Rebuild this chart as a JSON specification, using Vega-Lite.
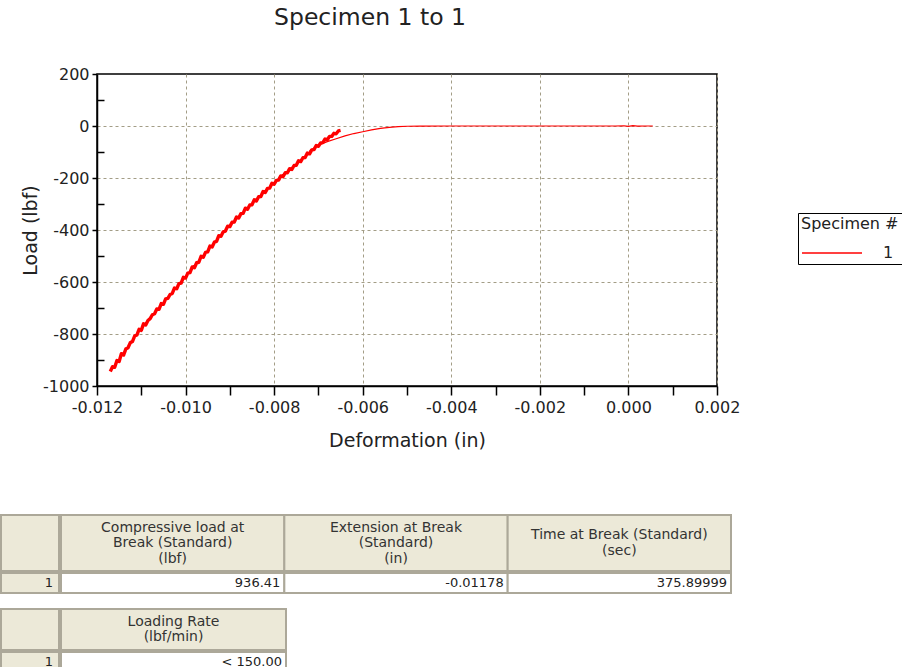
{
  "$schema": "https://vega.github.io/schema/vega-lite/v6.json",
  "padding": {"left": 0, "top": 4, "right": 0, "bottom": 0},
  "background": "white",
  "config": {"font": "DejaVu Sans", "view": {"stroke": null}},
  "datasets": {
    "curve": [
      {"deformation": 0.00055, "load": 0, "phase": "a", "specimen": "1"},
      {"deformation": 0.0004, "load": 0, "phase": "a", "specimen": "1"},
      {"deformation": 0.0002, "load": -0.5, "phase": "a", "specimen": "1"},
      {"deformation": 0.0001, "load": 1.5, "phase": "a", "specimen": "1"},
      {"deformation": 0.0, "load": -1.5, "phase": "a", "specimen": "1"},
      {"deformation": -0.0001, "load": 1, "phase": "a", "specimen": "1"},
      {"deformation": -0.0003, "load": 0, "phase": "a", "specimen": "1"},
      {"deformation": -0.001, "load": 0, "phase": "a", "specimen": "1"},
      {"deformation": -0.002, "load": 0, "phase": "a", "specimen": "1"},
      {"deformation": -0.003, "load": 0, "phase": "a", "specimen": "1"},
      {"deformation": -0.004, "load": 0, "phase": "a", "specimen": "1"},
      {"deformation": -0.0047, "load": -0.3, "phase": "a", "specimen": "1"},
      {"deformation": -0.005, "load": -1, "phase": "a", "specimen": "1"},
      {"deformation": -0.0052, "load": -2.5, "phase": "a", "specimen": "1"},
      {"deformation": -0.0054, "load": -5, "phase": "a", "specimen": "1"},
      {"deformation": -0.0056, "load": -9, "phase": "a", "specimen": "1"},
      {"deformation": -0.0058, "load": -15, "phase": "a", "specimen": "1"},
      {"deformation": -0.006, "load": -22, "phase": "a", "specimen": "1"},
      {"deformation": -0.0062, "load": -29, "phase": "a", "specimen": "1"},
      {"deformation": -0.0064, "load": -38, "phase": "a", "specimen": "1"},
      {"deformation": -0.0066, "load": -49, "phase": "a", "specimen": "1"},
      {"deformation": -0.0068, "load": -60, "phase": "a", "specimen": "1"},
      {"deformation": -0.007, "load": -74, "phase": "a", "specimen": "1"},
      {"deformation": -0.0072, "load": -95, "phase": "a", "specimen": "1"},
      {"deformation": -0.0117, "load": -944, "phase": "b", "specimen": "1"},
      {"deformation": -0.01165, "load": -926, "phase": "b", "specimen": "1"},
      {"deformation": -0.0116, "load": -928, "phase": "b", "specimen": "1"},
      {"deformation": -0.01155, "load": -902, "phase": "b", "specimen": "1"},
      {"deformation": -0.0115, "load": -906, "phase": "b", "specimen": "1"},
      {"deformation": -0.01145, "load": -876, "phase": "b", "specimen": "1"},
      {"deformation": -0.0114, "load": -881, "phase": "b", "specimen": "1"},
      {"deformation": -0.01135, "load": -858, "phase": "b", "specimen": "1"},
      {"deformation": -0.0113, "load": -853, "phase": "b", "specimen": "1"},
      {"deformation": -0.01125, "load": -834, "phase": "b", "specimen": "1"},
      {"deformation": -0.0112, "load": -829, "phase": "b", "specimen": "1"},
      {"deformation": -0.01115, "load": -808, "phase": "b", "specimen": "1"},
      {"deformation": -0.0111, "load": -804, "phase": "b", "specimen": "1"},
      {"deformation": -0.01105, "load": -782, "phase": "b", "specimen": "1"},
      {"deformation": -0.011, "load": -786, "phase": "b", "specimen": "1"},
      {"deformation": -0.01095, "load": -761, "phase": "b", "specimen": "1"},
      {"deformation": -0.0109, "load": -765, "phase": "b", "specimen": "1"},
      {"deformation": -0.01085, "load": -748, "phase": "b", "specimen": "1"},
      {"deformation": -0.0108, "load": -741, "phase": "b", "specimen": "1"},
      {"deformation": -0.01075, "load": -726, "phase": "b", "specimen": "1"},
      {"deformation": -0.0107, "load": -722, "phase": "b", "specimen": "1"},
      {"deformation": -0.01065, "load": -704, "phase": "b", "specimen": "1"},
      {"deformation": -0.0106, "load": -705, "phase": "b", "specimen": "1"},
      {"deformation": -0.01055, "load": -683, "phase": "b", "specimen": "1"},
      {"deformation": -0.0105, "load": -686, "phase": "b", "specimen": "1"},
      {"deformation": -0.01045, "load": -665, "phase": "b", "specimen": "1"},
      {"deformation": -0.0104, "load": -663, "phase": "b", "specimen": "1"},
      {"deformation": -0.01035, "load": -648, "phase": "b", "specimen": "1"},
      {"deformation": -0.0103, "load": -644, "phase": "b", "specimen": "1"},
      {"deformation": -0.01025, "load": -623, "phase": "b", "specimen": "1"},
      {"deformation": -0.0102, "load": -626, "phase": "b", "specimen": "1"},
      {"deformation": -0.01015, "load": -606, "phase": "b", "specimen": "1"},
      {"deformation": -0.0101, "load": -604, "phase": "b", "specimen": "1"},
      {"deformation": -0.01005, "load": -582, "phase": "b", "specimen": "1"},
      {"deformation": -0.01, "load": -585, "phase": "b", "specimen": "1"},
      {"deformation": -0.00995, "load": -566, "phase": "b", "specimen": "1"},
      {"deformation": -0.0099, "load": -564, "phase": "b", "specimen": "1"},
      {"deformation": -0.00985, "load": -542, "phase": "b", "specimen": "1"},
      {"deformation": -0.0098, "load": -545, "phase": "b", "specimen": "1"},
      {"deformation": -0.00975, "load": -526, "phase": "b", "specimen": "1"},
      {"deformation": -0.0097, "load": -524, "phase": "b", "specimen": "1"},
      {"deformation": -0.00965, "load": -501, "phase": "b", "specimen": "1"},
      {"deformation": -0.0096, "load": -505, "phase": "b", "specimen": "1"},
      {"deformation": -0.00955, "load": -486, "phase": "b", "specimen": "1"},
      {"deformation": -0.0095, "load": -484, "phase": "b", "specimen": "1"},
      {"deformation": -0.00945, "load": -462, "phase": "b", "specimen": "1"},
      {"deformation": -0.0094, "load": -465, "phase": "b", "specimen": "1"},
      {"deformation": -0.00935, "load": -447, "phase": "b", "specimen": "1"},
      {"deformation": -0.0093, "load": -444, "phase": "b", "specimen": "1"},
      {"deformation": -0.00925, "load": -422, "phase": "b", "specimen": "1"},
      {"deformation": -0.0092, "load": -424, "phase": "b", "specimen": "1"},
      {"deformation": -0.00915, "load": -407, "phase": "b", "specimen": "1"},
      {"deformation": -0.0091, "load": -404, "phase": "b", "specimen": "1"},
      {"deformation": -0.00905, "load": -385, "phase": "b", "specimen": "1"},
      {"deformation": -0.009, "load": -387, "phase": "b", "specimen": "1"},
      {"deformation": -0.00895, "load": -370, "phase": "b", "specimen": "1"},
      {"deformation": -0.0089, "load": -369, "phase": "b", "specimen": "1"},
      {"deformation": -0.00885, "load": -350, "phase": "b", "specimen": "1"},
      {"deformation": -0.0088, "load": -354, "phase": "b", "specimen": "1"},
      {"deformation": -0.00875, "load": -337, "phase": "b", "specimen": "1"},
      {"deformation": -0.0087, "load": -336, "phase": "b", "specimen": "1"},
      {"deformation": -0.00865, "load": -316, "phase": "b", "specimen": "1"},
      {"deformation": -0.0086, "load": -320, "phase": "b", "specimen": "1"},
      {"deformation": -0.00855, "load": -304, "phase": "b", "specimen": "1"},
      {"deformation": -0.0085, "load": -303, "phase": "b", "specimen": "1"},
      {"deformation": -0.00845, "load": -284, "phase": "b", "specimen": "1"},
      {"deformation": -0.0084, "load": -288, "phase": "b", "specimen": "1"},
      {"deformation": -0.00835, "load": -272, "phase": "b", "specimen": "1"},
      {"deformation": -0.0083, "load": -271, "phase": "b", "specimen": "1"},
      {"deformation": -0.00825, "load": -252, "phase": "b", "specimen": "1"},
      {"deformation": -0.0082, "load": -256, "phase": "b", "specimen": "1"},
      {"deformation": -0.00815, "load": -240, "phase": "b", "specimen": "1"},
      {"deformation": -0.0081, "load": -239, "phase": "b", "specimen": "1"},
      {"deformation": -0.00805, "load": -220, "phase": "b", "specimen": "1"},
      {"deformation": -0.008, "load": -224, "phase": "b", "specimen": "1"},
      {"deformation": -0.00795, "load": -209, "phase": "b", "specimen": "1"},
      {"deformation": -0.0079, "load": -208, "phase": "b", "specimen": "1"},
      {"deformation": -0.00785, "load": -192, "phase": "b", "specimen": "1"},
      {"deformation": -0.0078, "load": -195, "phase": "b", "specimen": "1"},
      {"deformation": -0.00775, "load": -180, "phase": "b", "specimen": "1"},
      {"deformation": -0.0077, "load": -180, "phase": "b", "specimen": "1"},
      {"deformation": -0.00765, "load": -164, "phase": "b", "specimen": "1"},
      {"deformation": -0.0076, "load": -167, "phase": "b", "specimen": "1"},
      {"deformation": -0.00755, "load": -152, "phase": "b", "specimen": "1"},
      {"deformation": -0.0075, "load": -151, "phase": "b", "specimen": "1"},
      {"deformation": -0.00745, "load": -134, "phase": "b", "specimen": "1"},
      {"deformation": -0.0074, "load": -137, "phase": "b", "specimen": "1"},
      {"deformation": -0.00735, "load": -122, "phase": "b", "specimen": "1"},
      {"deformation": -0.0073, "load": -121, "phase": "b", "specimen": "1"},
      {"deformation": -0.00725, "load": -104, "phase": "b", "specimen": "1"},
      {"deformation": -0.0072, "load": -107, "phase": "b", "specimen": "1"},
      {"deformation": -0.00715, "load": -92, "phase": "b", "specimen": "1"},
      {"deformation": -0.0071, "load": -91, "phase": "b", "specimen": "1"},
      {"deformation": -0.00705, "load": -75, "phase": "b", "specimen": "1"},
      {"deformation": -0.007, "load": -78, "phase": "b", "specimen": "1"},
      {"deformation": -0.00695, "load": -65, "phase": "b", "specimen": "1"},
      {"deformation": -0.0069, "load": -64, "phase": "b", "specimen": "1"},
      {"deformation": -0.00685, "load": -50, "phase": "b", "specimen": "1"},
      {"deformation": -0.0068, "load": -53, "phase": "b", "specimen": "1"},
      {"deformation": -0.00675, "load": -40, "phase": "b", "specimen": "1"},
      {"deformation": -0.0067, "load": -40, "phase": "b", "specimen": "1"},
      {"deformation": -0.00665, "load": -28, "phase": "b", "specimen": "1"},
      {"deformation": -0.0066, "load": -30, "phase": "b", "specimen": "1"},
      {"deformation": -0.00655, "load": -19, "phase": "b", "specimen": "1"},
      {"deformation": -0.0065, "load": -17, "phase": "b", "specimen": "1"}
    ],
    "t1head": [
      {"col": "c1", "label": ["Compressive load at", "Break (Standard)", "(lbf)"]},
      {"col": "c2", "label": ["Extension at Break", "(Standard)", "(in)"]},
      {"col": "c3", "label": ["Time at Break (Standard)", "(sec)"]}
    ],
    "t1vals": [
      {"col": "c1", "value": "936.41"},
      {"col": "c2", "value": "-0.01178"},
      {"col": "c3", "value": "375.89999"}
    ],
    "t2head": [
      {"col": "c1", "label": ["Loading Rate", "(lbf/min)"]}
    ],
    "t2vals": [
      {"col": "c1", "value": "< 150.00"}
    ],
    "idxhead": [{"col": "i", "value": ""}],
    "idxvals": [{"col": "i", "value": "1"}],
    "none": []
  },
  "spacing": 63,
  "vconcat": [
    {
      "spacing": 18,
      "hconcat": [
        {
          "width": 1, "height": 1,
          "data": {"name": "none"},
          "mark": {"type": "point"},
          "encoding": {}
        },
        {
          "width": 620,
          "height": 312,
          "view": {"stroke": "#000000", "strokeWidth": 1.5},
          "title": {"text": "Specimen 1 to 1", "fontSize": 23.5, "fontWeight": "normal", "color": "#222222", "frame": "group", "anchor": "middle", "dx": -37, "offset": 37, "font": "DejaVu Sans"},
          "data": {"name": "curve"},
          "encoding": {
            "x": {
              "field": "deformation", "type": "quantitative",
              "scale": {"domain": [-0.012, 0.002], "nice": false, "zero": false},
              "title": "Deformation (in)",
              "axis": {
                "values": [-0.012, -0.011, -0.01, -0.009, -0.008, -0.007, -0.006, -0.005, -0.004, -0.003, -0.002, -0.001, 0, 0.001, 0.002],
                "labelExpr": "abs(round(datum.value*1000)) % 2 === 0 ? replace(format(datum.value, '.3f'), '\u2212', '-') : ''",
                "grid": true,
                "gridOpacity": {"condition": {"test": "abs(round(datum.value*1000)) % 2 === 0", "value": 1}, "value": 0},
                "gridColor": "#a39d86", "gridDash": [3, 3], "gridWidth": 1,
                "domainColor": "#000000", "domainWidth": 1.5,
                "tickColor": "#000000", "tickWidth": 1.5, "tickSize": 9,
                "labelFontSize": 16, "labelColor": "#222222", "labelPadding": 4,
                "labelOverlap": false, "labelFlush": false,
                "titleFontSize": 19, "titleFontWeight": "normal", "titleColor": "#222222", "titlePadding": 16
              }
            },
            "y": {
              "field": "load", "type": "quantitative",
              "scale": {"domain": [-1000, 200], "nice": false, "zero": false},
              "title": "Load (lbf)",
              "axis": {
                "values": [-1000, -900, -800, -700, -600, -500, -400, -300, -200, -100, 0, 100, 200],
                "labelExpr": "datum.value % 200 === 0 ? '' + datum.value : ''",
                "grid": true,
                "gridOpacity": {"condition": {"test": "datum.value % 200 === 0 && datum.value > -1000 && datum.value < 200", "value": 1}, "value": 0},
                "gridColor": "#a39d86", "gridDash": [3, 3], "gridWidth": 1,
                "domainColor": "#000000", "domainWidth": 1.5,
                "tickColor": "#000000", "tickWidth": 1.5,
                "tickSize": {"condition": {"test": "datum.value % 200 === 0", "value": 5}, "value": -7},
                "labelFontSize": 16, "labelColor": "#222222", "labelPadding": 3,
                "labelOverlap": false, "labelFlush": false,
                "titleFontSize": 19, "titleFontWeight": "normal", "titleColor": "#222222", "titlePadding": 2
              }
            },
            "color": {
              "field": "specimen", "type": "nominal",
              "scale": {"range": ["#ff0000"]},
              "legend": {
                "title": "Specimen #", "orient": "none", "legendX": 797, "legendY": 139,
                "strokeColor": "#000000", "padding": 3,
                "symbolType": "stroke", "symbolSize": 3600, "symbolStrokeWidth": 1.5,
                "clipHeight": 16,
                "labelOffset": 20,
                "titleFontSize": 16, "titleFontWeight": "normal", "titleColor": "#222222",
                "labelFontSize": 16, "labelColor": "#222222", "titlePadding": 13
              }
            }
          },
          "layer": [
            {"transform": [{"filter": "datum.phase === 'a'"}], "mark": {"type": "line", "strokeWidth": 1.2}},
            {"transform": [{"filter": "datum.phase === 'b'"}], "mark": {"type": "line", "strokeWidth": 3.4, "strokeJoin": "round"}}
          ]
        }
      ]
    },
    {
      "spacing": 14,
      "vconcat": [
        {
          "spacing": 0,
          "vconcat": [
            {
              "spacing": 0,
              "hconcat": [
                {
                  "width": 58, "height": 56, "data": {"name": "idxhead"},
                  "mark": {"type": "rect", "fill": "#ece9d8", "stroke": "#aca899", "strokeWidth": 2},
                  "encoding": {"x": {"field": "col", "type": "nominal", "axis": null, "scale": {"paddingInner": 0, "paddingOuter": 0}}}
                },
                {
                  "width": 670, "height": 56, "data": {"name": "t1head"},
                  "encoding": {"x": {"field": "col", "type": "nominal", "axis": null, "scale": {"paddingInner": 0, "paddingOuter": 0}}},
                  "layer": [
                    {"mark": {"type": "rect", "fill": "#ece9d8", "stroke": "#aca899", "strokeWidth": 2}},
                    {"transform": [{"filter": "length(datum.label) === 3"}], "mark": {"type": "text", "fontSize": 14, "lineHeight": 15.5, "baseline": "middle", "dy": -15.5, "color": "#333333"}, "encoding": {"text": {"field": "label"}}},
                    {"transform": [{"filter": "length(datum.label) === 2"}], "mark": {"type": "text", "fontSize": 14, "lineHeight": 15.5, "baseline": "middle", "dy": -7.75, "color": "#333333"}, "encoding": {"text": {"field": "label"}}}
                  ]
                }
              ]
            },
            {
              "spacing": 0,
              "hconcat": [
                {
                  "width": 58, "height": 20, "data": {"name": "idxvals"},
                  "encoding": {"x": {"field": "col", "type": "nominal", "axis": null, "scale": {"paddingInner": 0, "paddingOuter": 0}}},
                  "layer": [
                    {"mark": {"type": "rect", "fill": "#ece9d8", "stroke": "#aca899", "strokeWidth": 2}},
                    {"mark": {"type": "text", "fontSize": 13, "baseline": "middle", "align": "right", "dx": -6, "color": "#222222"}, "encoding": {"x": {"field": "col", "type": "nominal", "axis": null, "bandPosition": 1}, "text": {"field": "value"}}}
                  ]
                },
                {
                  "width": 670, "height": 20, "data": {"name": "t1vals"},
                  "encoding": {"x": {"field": "col", "type": "nominal", "axis": null, "scale": {"paddingInner": 0, "paddingOuter": 0}}},
                  "layer": [
                    {"mark": {"type": "rect", "fill": "#ffffff", "stroke": "#aca899", "strokeWidth": 2}},
                    {"mark": {"type": "text", "fontSize": 13, "baseline": "middle", "align": "right", "dx": -4, "color": "#222222"}, "encoding": {"x": {"field": "col", "type": "nominal", "axis": null, "bandPosition": 1}, "text": {"field": "value"}}}
                  ]
                }
              ]
            }
          ]
        },
        {
          "spacing": 0,
          "vconcat": [
            {
              "spacing": 0,
              "hconcat": [
                {
                  "width": 58, "height": 41, "data": {"name": "idxhead"},
                  "mark": {"type": "rect", "fill": "#ece9d8", "stroke": "#aca899", "strokeWidth": 2},
                  "encoding": {"x": {"field": "col", "type": "nominal", "axis": null, "scale": {"paddingInner": 0, "paddingOuter": 0}}}
                },
                {
                  "width": 225, "height": 41, "data": {"name": "t2head"},
                  "encoding": {"x": {"field": "col", "type": "nominal", "axis": null, "scale": {"paddingInner": 0, "paddingOuter": 0}}},
                  "layer": [
                    {"mark": {"type": "rect", "fill": "#ece9d8", "stroke": "#aca899", "strokeWidth": 2}},
                    {"mark": {"type": "text", "fontSize": 14, "lineHeight": 15.5, "baseline": "middle", "dy": -7.75, "color": "#333333"}, "encoding": {"text": {"field": "label"}}}
                  ]
                }
              ]
            },
            {
              "spacing": 0,
              "hconcat": [
                {
                  "width": 58, "height": 19, "data": {"name": "idxvals"},
                  "encoding": {"x": {"field": "col", "type": "nominal", "axis": null, "scale": {"paddingInner": 0, "paddingOuter": 0}}},
                  "layer": [
                    {"mark": {"type": "rect", "fill": "#ece9d8", "stroke": "#aca899", "strokeWidth": 2}},
                    {"mark": {"type": "text", "fontSize": 13, "baseline": "middle", "align": "right", "dx": -6, "color": "#222222"}, "encoding": {"x": {"field": "col", "type": "nominal", "axis": null, "bandPosition": 1}, "text": {"field": "value"}}}
                  ]
                },
                {
                  "width": 225, "height": 19, "data": {"name": "t2vals"},
                  "encoding": {"x": {"field": "col", "type": "nominal", "axis": null, "scale": {"paddingInner": 0, "paddingOuter": 0}}},
                  "layer": [
                    {"mark": {"type": "rect", "fill": "#ffffff", "stroke": "#aca899", "strokeWidth": 2}},
                    {"mark": {"type": "text", "fontSize": 13, "baseline": "middle", "align": "right", "dx": -4, "color": "#222222"}, "encoding": {"x": {"field": "col", "type": "nominal", "axis": null, "bandPosition": 1}, "text": {"field": "value"}}}
                  ]
                }
              ]
            }
          ]
        }
      ]
    }
  ]
}
